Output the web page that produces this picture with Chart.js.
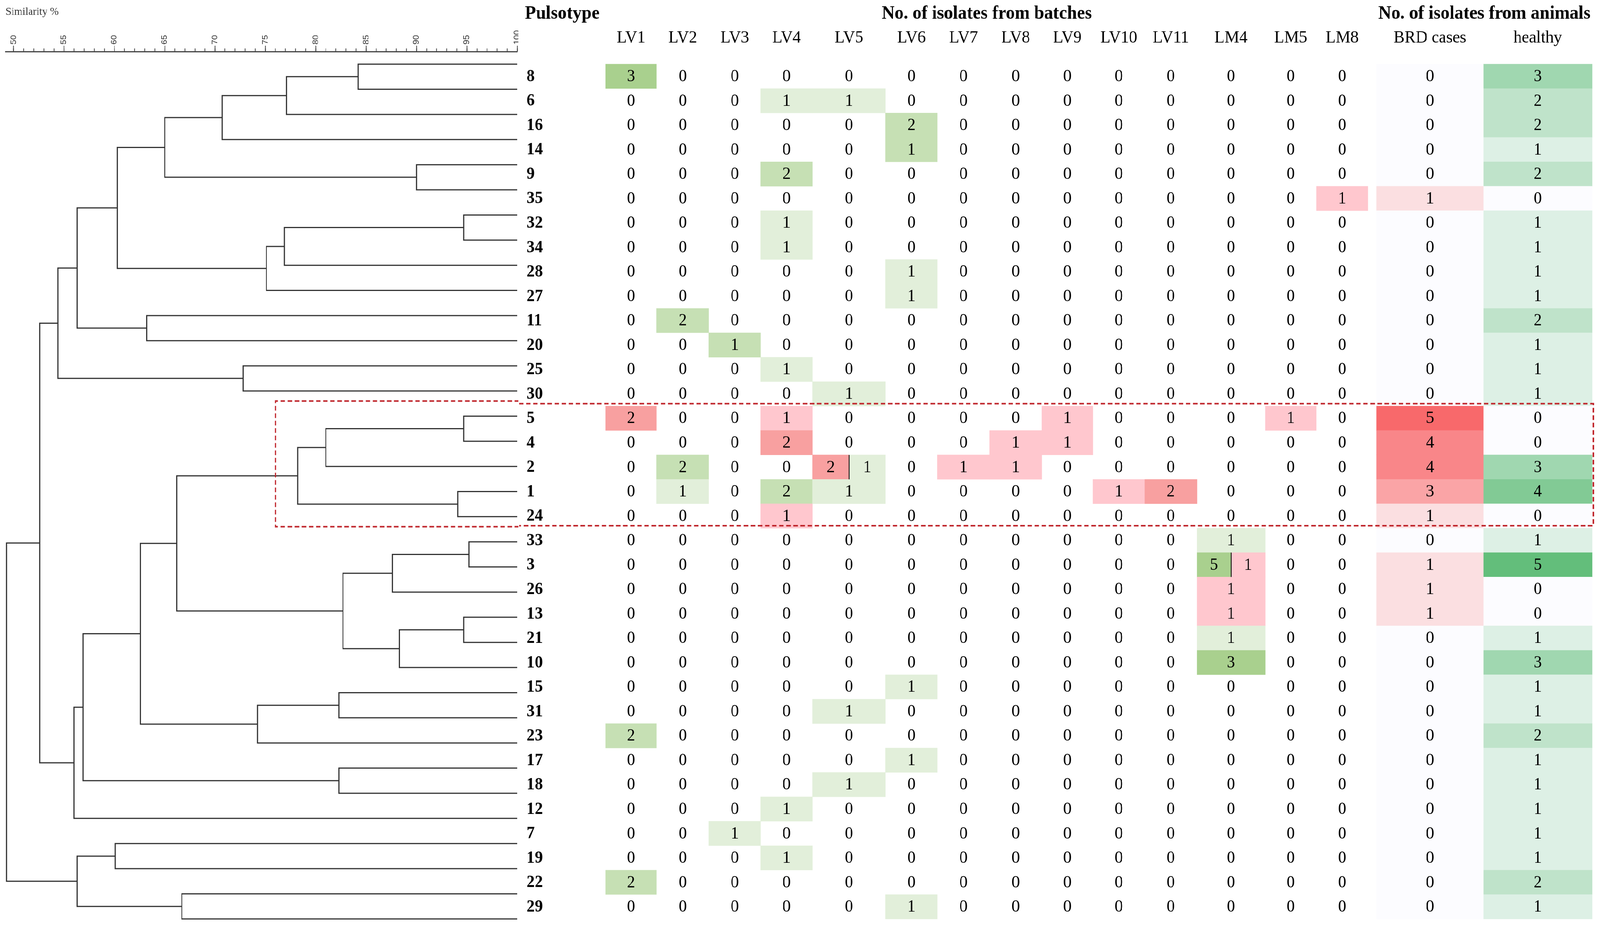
<!DOCTYPE html>
<html>
<head>
<meta charset="utf-8">
<script src="https://cdn.jsdelivr.net/npm/chart.js@4.4.1/dist/chart.umd.min.js"></script>
<style>
  html, body { margin: 0; padding: 0; background: #ffffff; overflow: hidden; }
  #stage { position: absolute; left: 0; top: 0; width: 4285px; height: 2399px; transform-origin: 0 0; }
  #dendroBox { position: absolute; left: 0; top: 0; width: 1388px; height: 2399px; }
  #tableBox { position: absolute; left: 1388px; top: 0; width: 2897px; height: 2399px; }
</style>
</head>
<body>
<div id="stage">
  <div id="dendroBox"><canvas id="dendro"></canvas></div>
  <div id="tableBox"><canvas id="table"></canvas></div>
</div>
<script>
// ---------------- DATA ----------------
const axisLabel = 'Similarity %';
const pulsotypes = ['8','6','16','14','9','35','32','34','28','27','11','20','25','30',
  '5','4','2','1','24','33','3','26','13','21','10','15','31','23','17','18','12','7','19','22','29'];

// UPGMA merges: [node id, child A, child B, similarity %]
const merges = [
  ['n1','8','6',84.2], ['n2','n1','16',77.1], ['n3','n2','14',70.7], ['n4','9','35',90.0],
  ['n5','n3','n4',65.0], ['n6','32','34',94.7], ['n7','n6','28',76.9], ['n8','n7','27',75.1],
  ['n9','n5','n8',60.3], ['n10','11','20',63.2], ['n11','n9','n10',56.3], ['n12','25','30',72.8],
  ['n13','n11','n12',54.4], ['n14','5','4',94.7], ['n15','n14','2',81.0], ['n16','1','24',94.1],
  ['n17','n15','n16',78.2], ['n18','33','3',95.2], ['n19','n18','26',87.6], ['n20','13','21',94.7],
  ['n21','n20','10',88.3], ['n22','n19','n21',82.7], ['n23','n17','n22',66.2], ['n24','15','31',82.3],
  ['n25','n24','23',74.2], ['n26','n23','n25',62.6], ['n27','17','18',82.3], ['n28','n26','n27',56.9],
  ['n29','n28','12',56.0], ['n30','n13','n29',52.6], ['n31','7','19',60.1], ['n32','22','29',66.7],
  ['n33','n31','n32',56.3], ['n34','n30','n33',49.3]
];

const groupTitles = ['Pulsotype', 'No. of isolates from batches', 'No. of isolates from animals'];
const batches = ['LV1','LV2','LV3','LV4','LV5','LV6','LV7','LV8','LV9','LV10','LV11','LM4','LM5','LM8'];
const animalGroups = ['BRD cases', 'healthy'];

// non-zero batch counts: [pulsotype, batch, isolates, origin (H healthy / B BRD case), shade level]
const batchIsolates = [
  ['8','LV1',3,'H',3],
  ['6','LV4',1,'H',1], ['6','LV5',1,'H',1],
  ['16','LV6',2,'H',2],
  ['14','LV6',1,'H',2],
  ['9','LV4',2,'H',2],
  ['35','LM8',1,'B',1],
  ['32','LV4',1,'H',1], ['34','LV4',1,'H',1],
  ['28','LV6',1,'H',1], ['27','LV6',1,'H',1],
  ['11','LV2',2,'H',2],
  ['20','LV3',1,'H',2],
  ['25','LV4',1,'H',1],
  ['30','LV5',1,'H',1],
  ['5','LV1',2,'B',2], ['5','LV4',1,'B',1], ['5','LV9',1,'B',1], ['5','LM5',1,'B',1],
  ['4','LV4',2,'B',2], ['4','LV8',1,'B',1], ['4','LV9',1,'B',1],
  ['2','LV2',2,'H',2], ['2','LV5',2,'B',2], ['2','LV5',1,'H',1], ['2','LV7',1,'B',1], ['2','LV8',1,'B',1],
  ['1','LV2',1,'H',1], ['1','LV4',2,'H',2], ['1','LV5',1,'H',1], ['1','LV10',1,'B',1], ['1','LV11',2,'B',2],
  ['24','LV4',1,'B',1],
  ['33','LM4',1,'H',1],
  ['3','LM4',5,'H',3], ['3','LM4',1,'B',1],
  ['26','LM4',1,'B',1], ['13','LM4',1,'B',1],
  ['21','LM4',1,'H',1], ['10','LM4',3,'H',3],
  ['15','LV6',1,'H',1], ['31','LV5',1,'H',1], ['23','LV1',2,'H',2],
  ['17','LV6',1,'H',1], ['18','LV5',1,'H',1], ['12','LV4',1,'H',1],
  ['7','LV3',1,'H',1], ['19','LV4',1,'H',1], ['22','LV1',2,'H',2], ['29','LV6',1,'H',1]
];

const brdCases =       [0,0,0,0,0,1,0,0,0,0,0,0,0,0,5,4,4,3,1,0,1,1,1,0,0,0,0,0,0,0,0,0,0,0,0];
const healthyAnimals = [3,2,2,1,2,0,1,1,1,1,2,1,1,1,0,0,3,4,0,1,5,0,0,1,3,1,1,2,1,1,1,1,1,2,1];

const highlightedCluster = ['5', '24'];

// ---------------- LAYOUT / STYLE ----------------
const PAGE_W = 4285, PAGE_H = 2399;
const ROW_TOP = 132, BOTTOM_PAD = 14;
const boxLeftSimilarity = 76.0;
const labelColWidth = 232;
const batchColWidths = [137,140,139,139,196,139,140,140,137,139,140,183,137,139];
const gapWidth = 23;
const animalColWidths = [286, 292];
const rightMargin = 19;
const serif = '"Liberation Serif", "Times New Roman", serif';
const sans = '"Liberation Sans", Arial, sans-serif';
const axisFontSize = 22;
const greenShades = {1: '#e2efda', 2: '#c6e0b4', 3: '#a9d08e'};
const redShades = {1: '#ffc7ce', 2: '#f8a0a0'};
const boxColor = '#c0272d';
const treeColor = '#333333';

// fit the 4285x2399 drawing into the actual viewport
(function fitStage() {
  const vw = window.innerWidth || PAGE_W, vh = window.innerHeight || PAGE_H;
  document.getElementById('stage').style.transform = `scale(${vw / PAGE_W}, ${vh / PAGE_H})`;
})();

// ---------------- DENDROGRAM ----------------
const nodes = {};
pulsotypes.forEach((p, i) => { nodes[p] = {x: 100, y: i}; });
const treeDatasets = merges.map(([id, a, b, sim]) => {
  const A = nodes[a], B = nodes[b];
  nodes[id] = {x: sim, y: (A.y + B.y) / 2};
  return {
    data: [{x: A.x, y: A.y}, {x: sim, y: A.y}, {x: sim, y: B.y}, {x: B.x, y: B.y}],
    showLine: true, borderColor: treeColor, borderWidth: 3, pointRadius: 0, fill: false, clip: false
  };
});
const boxTop = pulsotypes.indexOf(highlightedCluster[0]) - 0.6;
const boxBottom = pulsotypes.indexOf(highlightedCluster[1]) + 0.4;

new Chart(document.getElementById('dendro'), {
  type: 'scatter',
  data: {
    datasets: [
      {
        data: [{x: 100.2, y: boxTop}, {x: boxLeftSimilarity, y: boxTop}, {x: boxLeftSimilarity, y: boxBottom}, {x: 100.2, y: boxBottom}],
        showLine: true, borderColor: boxColor, borderWidth: 4, borderDash: [12, 7], pointRadius: 0, fill: false, clip: false
      },
      ...treeDatasets
    ]
  },
  options: {
    responsive: true, maintainAspectRatio: false, animation: false,
    layout: {padding: {left: 15, right: 3, top: 0, bottom: BOTTOM_PAD}},
    plugins: {legend: {display: false}, tooltip: {enabled: false}},
    scales: {
      x: {
        type: 'linear', position: 'top', min: 49.2, max: 100, weight: 1,
        ticks: {stepSize: 5, includeBounds: false, minRotation: 90, maxRotation: 90, autoSkip: false,
          labelOffset: axisFontSize * 1.2, padding: 3, color: '#333', font: {family: sans, size: axisFontSize}},
        grid: {drawOnChartArea: false, drawTicks: true, tickLength: 15, tickColor: '#444', tickWidth: 2},
        border: {display: true, color: '#444', width: 3},
        title: {display: true, text: axisLabel, align: 'start', color: '#333',
          font: {family: serif, size: 28}, padding: {top: 14, bottom: 0}},
        afterFit: s => { s.height = ROW_TOP; }
      },
      xm: {
        type: 'linear', position: 'top', min: 49.2, max: 100, weight: 0,
        ticks: {stepSize: 1, includeBounds: false, display: false},
        grid: {drawOnChartArea: false, drawTicks: true, tickLength: 8, tickColor: '#444', tickWidth: 2},
        border: {display: false},
        afterFit: s => { s.height = 0; }
      },
      y: {type: 'linear', min: -0.5, max: pulsotypes.length - 0.5, reverse: true, display: false}
    }
  }
});

// ---------------- TABLE (heatmap) ----------------
let cur = 0;
const labelCol = [cur, cur + labelColWidth]; cur += labelColWidth;
const batchEdges = batchColWidths.map(w => { const e = [cur, cur + w]; cur += w; return e; });
cur += gapWidth;
const animalEdges = animalColWidths.map(w => { const e = [cur, cur + w]; cur += w; return e; });
const boxRight = cur + 3;
const totalWidth = cur + rightMargin;
const mid = e => (e[0] + e[1]) / 2;

const cellMap = pulsotypes.map(() => batches.map(() => []));
batchIsolates.forEach(([p, b, n, origin, shade]) => {
  cellMap[pulsotypes.indexOf(p)][batches.indexOf(b)].push({n, origin, shade});
});

const batchCellData = [], batchCellColors = [], dividerDatasets = [];
cellMap.forEach((row, i) => {
  row.forEach((parts, c) => {
    const [x0, x1] = batchEdges[c];
    const w = (x1 - x0) / (parts.length || 1);
    parts.forEach((e, k) => {
      batchCellData.push({y: i, x: [x0 + w * k, x0 + w * (k + 1)]});
      batchCellColors.push(e.origin === 'H' ? greenShades[e.shade] : redShades[e.shade]);
      if (k > 0) {
        dividerDatasets.push({
          type: 'line', order: 1,
          data: [{x: x0 + w * k, y: i - 0.5}, {x: x0 + w * k, y: i + 0.5}],
          borderColor: '#000', borderWidth: 2, pointRadius: 0, fill: false
        });
      }
    });
  });
});

function scaleColor(v, max, to) {
  const from = [252, 252, 255];
  const t = max ? v / max : 0;
  const c = from.map((f, k) => Math.round(f + (to[k] - f) * t));
  return `rgb(${c[0]},${c[1]},${c[2]})`;
}
const maxBrd = Math.max(...brdCases), maxHealthy = Math.max(...healthyAnimals);

const headerCenters = [...batchEdges.map(mid), ...animalEdges.map(mid)];
const headerLabels = [...batches, ...animalGroups];
const groupCenters = [mid(labelCol), (batchEdges[0][0] + batchEdges[batchEdges.length - 1][1]) / 2,
  (animalEdges[0][0] + animalEdges[animalEdges.length - 1][1]) / 2];

const cellTextPlugin = {
  id: 'cellText',
  afterDatasetsDraw(chart) {
    const {ctx, scales: {x, y}} = chart;
    ctx.save();
    ctx.fillStyle = '#000';
    ctx.textBaseline = 'middle';
    pulsotypes.forEach((p, i) => {
      const py = y.getPixelForValue(i) + 1;
      ctx.font = `bold 44px ${serif}`;
      ctx.textAlign = 'left';
      ctx.fillText(p, x.getPixelForValue(labelCol[0] + 20), py);
      ctx.font = `44px ${serif}`;
      ctx.textAlign = 'center';
      cellMap[i].forEach((parts, c) => {
        const [x0, x1] = batchEdges[c];
        if (!parts.length) {
          ctx.fillText('0', x.getPixelForValue((x0 + x1) / 2), py);
        } else {
          const w = (x1 - x0) / parts.length;
          parts.forEach((e, k) => ctx.fillText(String(e.n), x.getPixelForValue(x0 + w * (k + 0.5)), py));
        }
      });
      ctx.fillText(String(brdCases[i]), x.getPixelForValue(mid(animalEdges[0])), py);
      ctx.fillText(String(healthyAnimals[i]), x.getPixelForValue(mid(animalEdges[1])), py);
    });
    ctx.restore();
  }
};

new Chart(document.getElementById('table'), {
  type: 'bar',
  data: {
    datasets: [
      {
        type: 'line', order: 0,
        data: [{x: 0, y: boxTop}, {x: boxRight, y: boxTop}, {x: boxRight, y: boxBottom}, {x: 0, y: boxBottom}],
        borderColor: boxColor, borderWidth: 4, borderDash: [12, 7], pointRadius: 0, fill: false, clip: false
      },
      ...dividerDatasets,
      {order: 2, data: batchCellData, backgroundColor: batchCellColors},
      {order: 3, data: brdCases.map((v, i) => ({y: i, x: animalEdges[0]})),
        backgroundColor: brdCases.map(v => scaleColor(v, maxBrd, [248, 105, 107]))},
      {order: 3, data: healthyAnimals.map((v, i) => ({y: i, x: animalEdges[1]})),
        backgroundColor: healthyAnimals.map(v => scaleColor(v, maxHealthy, [99, 190, 123]))}
    ]
  },
  options: {
    indexAxis: 'y',
    responsive: true, maintainAspectRatio: false, animation: false,
    layout: {padding: {left: 0, right: 0, top: 0, bottom: BOTTOM_PAD}},
    plugins: {legend: {display: false}, tooltip: {enabled: false}},
    datasets: {bar: {grouped: false, barPercentage: 1, categoryPercentage: 1, borderWidth: 0}},
    scales: {
      x: {
        type: 'linear', position: 'top', min: 0, max: totalWidth, weight: 0,
        grid: {display: false, drawTicks: false}, border: {display: false},
        afterBuildTicks: s => { s.ticks = headerCenters.map(v => ({value: v})); },
        ticks: {autoSkip: false, minRotation: 0, maxRotation: 0, padding: 8, color: '#000',
          font: {family: serif, size: 44}, callback: (v, i) => headerLabels[i]},
        afterFit: s => { s.height = 66; }
      },
      x2: {
        type: 'linear', position: 'top', min: 0, max: totalWidth, weight: 1,
        grid: {display: false, drawTicks: false}, border: {display: false},
        afterBuildTicks: s => { s.ticks = groupCenters.map(v => ({value: v})); },
        ticks: {autoSkip: false, minRotation: 0, maxRotation: 0, padding: 2, color: '#000',
          font: {family: serif, size: 48, weight: 'bold'}, callback: (v, i) => groupTitles[i]},
        afterFit: s => { s.height = ROW_TOP - 66; }
      },
      y: {
        type: 'linear', min: -0.5, max: pulsotypes.length - 0.5, reverse: true, display: false,
        afterBuildTicks: s => { s.ticks = pulsotypes.map((_, i) => ({value: i})); }
      }
    }
  },
  plugins: [cellTextPlugin]
});
</script>
</body>
</html>
